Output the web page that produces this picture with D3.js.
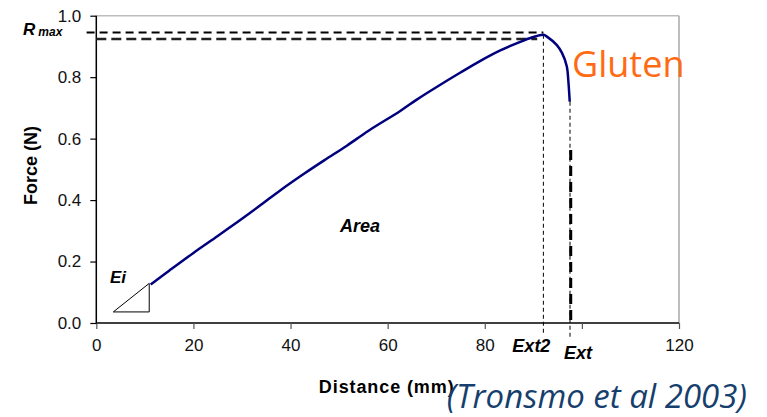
<!DOCTYPE html>
<html>
<head>
<meta charset="utf-8">
<script src="https://cdn.jsdelivr.net/npm/d3@7"></script>
<style>
  body { margin: 0; background: #fff; }
  text { font-family: "Liberation Sans", Arial, sans-serif; }
</style>
</head>
<body>
<svg id="chart" width="767" height="417"></svg>
<script>
// force-distance curve (mm, N)
const distance = [11.2, 15, 20, 25, 29, 33.7, 38, 43, 47, 51.6, 56, 62.6, 66, 70.1, 75, 79.1, 83.2, 87.3, 89.7, 92.1, 92.8, 94.8, 95.9, 96.9, 97.2, 97.5];
const force    = [0.125, 0.170, 0.228, 0.283, 0.328, 0.382, 0.433, 0.488, 0.530, 0.577, 0.625, 0.690, 0.727, 0.768, 0.815, 0.853, 0.887, 0.915, 0.929, 0.938, 0.932, 0.905, 0.879, 0.835, 0.79, 0.72];

const xTicks = [0, 20, 40, 60, 80, 100, 120];
const yTicks = [0, 0.2, 0.4, 0.6, 0.8, 1.0];

const rmax = 0.945, rmax2 = 0.924;
const ext2 = 92.07, ext = 97.7;

const svg = d3.select("#chart");
const x = d3.scaleLinear().domain([0, 120]).range([96.3, 679]);
const y = d3.scaleLinear().domain([0, 1]).range([323, 15.7]);

// plot frame (grey top and right)
svg.append("line")
    .attr("x1", x(0)).attr("x2", x(120))
    .attr("y1", y(1)).attr("y2", y(1))
    .attr("stroke", "#bdbdbd").attr("stroke-width", 1.5);
svg.append("line")
    .attr("x1", x(120)).attr("x2", x(120))
    .attr("y1", y(1)).attr("y2", y(0))
    .attr("stroke", "#a8a8a8").attr("stroke-width", 1.5);

// axes
const xAxis = svg.append("g")
    .attr("transform", `translate(0,${y(0)})`)
    .call(d3.axisBottom(x).tickValues(xTicks).tickSize(6).tickPadding(10)
        .tickFormat(d => d === 100 ? "" : d));
const yAxis = svg.append("g")
    .attr("transform", `translate(${x(0)},0)`)
    .call(d3.axisLeft(y).tickValues(yTicks).tickSize(6).tickPadding(9)
        .tickFormat(d3.format(".1f")));

[xAxis, yAxis].forEach(a => {
    a.select(".domain").attr("stroke", "#000").attr("stroke-width", 1.5);
    a.selectAll(".tick line").attr("stroke", "#000").attr("stroke-width", 1.2);
    a.selectAll(".tick text")
        .attr("fill", "#111")
        .style("font-size", "17px")
        .style("font-family", "Liberation Sans, Arial, sans-serif");
});
xAxis.selectAll(".tick line").attr("stroke", "#555");
yAxis.select(".domain").attr("d", `M0,${y(0) + 0.5}V${y(1)}`);
xAxis.select(".domain").attr("d", `M${x(0)},0H${x(120)}`);

// Rmax dashed lines
svg.append("line")
    .attr("x1", x(-2)).attr("x2", x(ext2))
    .attr("y1", y(rmax)).attr("y2", y(rmax))
    .attr("stroke", "#000").attr("stroke-width", 2)
    .attr("stroke-dasharray", "8,5");
svg.append("line")
    .attr("x1", x(0)).attr("x2", x(90.8))
    .attr("y1", y(rmax2)).attr("y2", y(rmax2))
    .attr("stroke", "#222").attr("stroke-width", 2.5)
    .attr("stroke-dasharray", "10,5");

// Ext2 and Ext thin dashed lines
svg.append("line")
    .attr("x1", x(ext2)).attr("x2", x(ext2))
    .attr("y1", y(0.938)).attr("y2", y(0) + 10)
    .attr("stroke", "#000").attr("stroke-width", 1)
    .attr("stroke-dasharray", "4,3");
svg.append("line")
    .attr("x1", x(ext) - 0.7).attr("x2", x(ext) - 0.7)
    .attr("y1", y(0.72)).attr("y2", y(0) + 15)
    .attr("stroke", "#000").attr("stroke-width", 1)
    .attr("stroke-dasharray", "4,3");
svg.append("line")
    .attr("x1", x(ext)).attr("x2", x(ext))
    .attr("y1", y(0.563)).attr("y2", y(0))
    .attr("stroke", "#000").attr("stroke-width", 3)
    .attr("stroke-dasharray", "10,6");

// Ei triangle
const tri = [[3.5, 0.036], [10.9, 0.036], [10.9, 0.129]];
svg.append("path")
    .attr("d", d3.line().x(d => x(d[0])).y(d => y(d[1]))(tri) + "Z")
    .attr("fill", "none").attr("stroke", "#000").attr("stroke-width", 1);

// curve
const pts = distance.map((d, i) => [d, force[i]]);
svg.append("path")
    .datum(pts)
    .attr("d", d3.line().x(d => x(d[0])).y(d => y(d[1])).curve(d3.curveCatmullRom))
    .attr("fill", "none")
    .attr("stroke", "#00007f")
    .attr("stroke-width", 2.5);

// labels
function label(tx, ty, str, size, opts = {}) {
    return svg.append("text")
        .attr("x", tx).attr("y", ty)
        .attr("text-anchor", opts.anchor || "start")
        .style("font-size", size + "px")
        .style("font-weight", opts.weight || "bold")
        .style("font-style", opts.style || "italic")
        .attr("fill", opts.fill || "#000")
        .text(str);
}
label(x(2.8), 282.5, "Ei", 17);
label(360, 231.7, "Area", 18, { anchor: "middle" });
label(x(ext2) - 12, 352, "Ext2", 18, { anchor: "middle" });
label(578, 358.5, "Ext", 18, { anchor: "middle" });

const r = label(23, 35, "R", 17);
r.append("tspan").attr("dx", 3).attr("dy", 1).style("font-size", "12px").text("max");

svg.append("text")
    .attr("transform", "translate(37,165.5) rotate(-90)")
    .attr("text-anchor", "middle")
    .style("font-size", "18px").style("font-weight", "bold")
    .text("Force (N)");
svg.append("text")
    .attr("x", 386.7).attr("y", 393.3)
    .attr("text-anchor", "middle")
    .style("font-size", "18px").style("font-weight", "bold")
    .style("letter-spacing", "0.9px")
    .text("Distance (mm)");

label(572, 77, "Gluten", 36, { weight: "normal", style: "normal", fill: "#ff6a13" })
    .style("font-family", "Open Sans, sans-serif");
label(446.7, 408.3, "(Tronsmo et al 2003)", 33, { weight: "normal", style: "italic", fill: "#163f6e" })
    .style("font-family", "Open Sans, sans-serif");
</script>
</body>
</html>
